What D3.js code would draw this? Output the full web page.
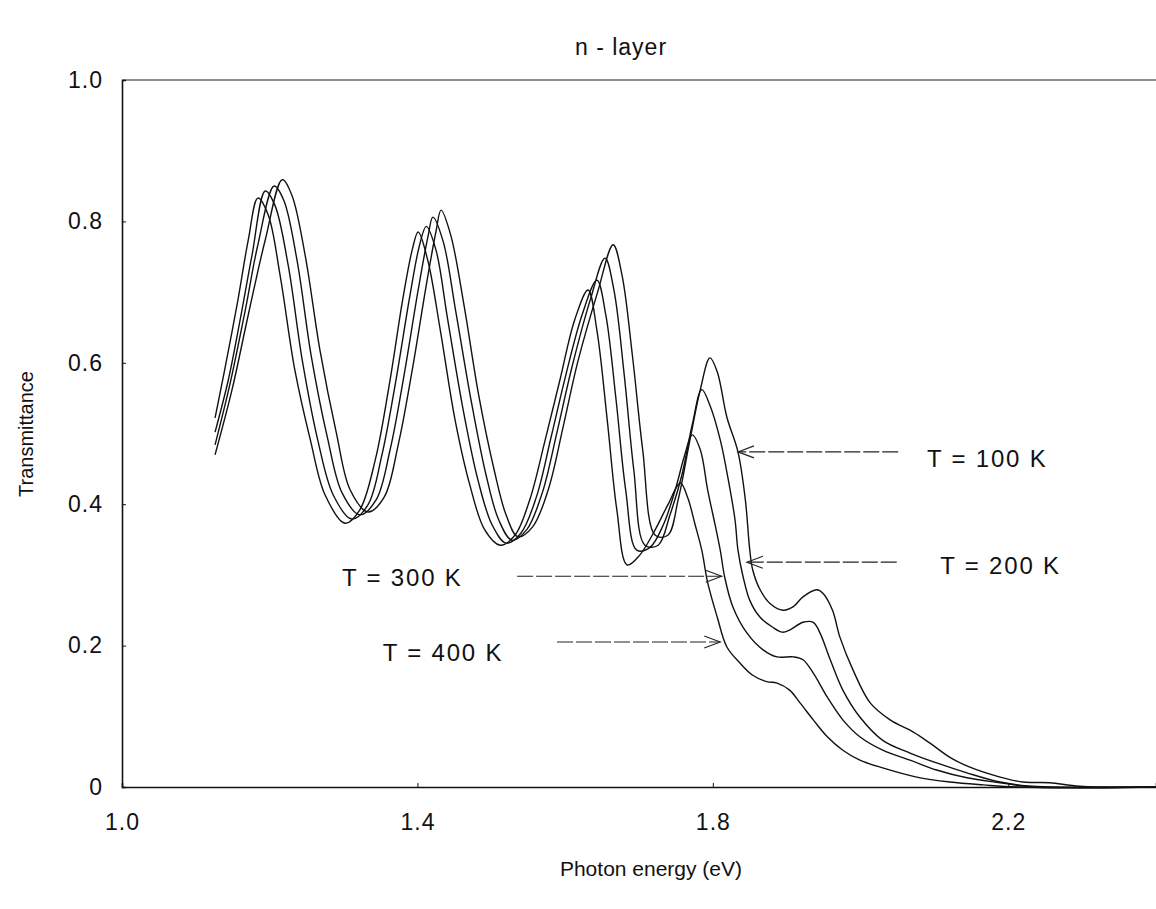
<!DOCTYPE html>
<html><head><meta charset="utf-8">
<script src="https://cdn.jsdelivr.net/npm/d3@7"></script>
<style>
body{margin:0;background:#fff}
text{font-family:"Liberation Sans",Arial,sans-serif;fill:#111}
</style>
</head><body>
<svg id="chart" width="1156" height="909"></svg>
<script>
// ---- data ----
const xTicks = [1.0, 1.4, 1.8, 2.2];
const yTicks = [0, 0.2, 0.4, 0.6, 0.8, 1.0];
const title = "n - layer";
const xTitle = "Photon energy (eV)";
const yTitle = "Transmittance";

const e400 = [1.126,1.139,1.157,1.171,1.184,1.198,1.214,1.234,1.255,1.275,1.302,1.322,1.343,1.363,1.380,1.393,1.401,1.414,1.431,1.451,1.471,1.491,1.512,1.532,1.552,1.573,1.593,1.613,1.631,1.643,1.657,1.670,1.684,1.701,1.722,1.739,1.756,1.766,1.776,1.785,1.793,1.806,1.819,1.837,1.854,1.873,1.887,1.904,1.918,1.936,1.955,1.976,1.999,2.030,2.076,2.121,2.166,2.212,2.400];
const t400 = [0.522,0.590,0.689,0.774,0.833,0.809,0.724,0.590,0.491,0.413,0.373,0.392,0.463,0.576,0.689,0.760,0.785,0.745,0.646,0.519,0.427,0.364,0.342,0.356,0.406,0.491,0.576,0.661,0.703,0.646,0.519,0.392,0.314,0.328,0.364,0.399,0.430,0.409,0.371,0.335,0.289,0.240,0.198,0.175,0.158,0.149,0.147,0.137,0.119,0.095,0.071,0.052,0.038,0.027,0.014,0.007,0.003,0.000,0.000];

const e300 = [1.126,1.144,1.160,1.176,1.194,1.207,1.225,1.244,1.265,1.286,1.311,1.333,1.352,1.371,1.390,1.403,1.412,1.425,1.441,1.462,1.482,1.501,1.520,1.540,1.561,1.581,1.601,1.623,1.643,1.655,1.669,1.682,1.697,1.715,1.733,1.749,1.762,1.772,1.783,1.793,1.803,1.810,1.816,1.827,1.846,1.868,1.887,1.909,1.922,1.936,1.955,1.976,1.999,2.030,2.067,2.103,2.144,2.189,2.233,2.400];
const t300 = [0.502,0.576,0.661,0.752,0.843,0.823,0.738,0.604,0.491,0.413,0.379,0.399,0.470,0.576,0.696,0.767,0.793,0.760,0.661,0.533,0.434,0.371,0.345,0.359,0.410,0.495,0.583,0.668,0.717,0.668,0.547,0.420,0.335,0.339,0.371,0.420,0.470,0.498,0.477,0.420,0.371,0.335,0.297,0.255,0.218,0.194,0.184,0.184,0.180,0.161,0.127,0.095,0.071,0.052,0.038,0.024,0.013,0.006,0.000,0.000];

const e200 = [1.126,1.146,1.167,1.184,1.206,1.219,1.237,1.256,1.278,1.298,1.322,1.344,1.363,1.382,1.401,1.414,1.421,1.435,1.452,1.473,1.493,1.510,1.528,1.548,1.569,1.589,1.609,1.634,1.654,1.666,1.680,1.693,1.708,1.726,1.742,1.758,1.772,1.785,1.796,1.810,1.821,1.830,1.834,1.841,1.850,1.864,1.881,1.894,1.904,1.922,1.936,1.945,1.959,1.976,1.999,2.030,2.067,2.103,2.144,2.189,2.233,2.400];
const t200 = [0.484,0.569,0.675,0.767,0.850,0.830,0.745,0.611,0.495,0.416,0.385,0.406,0.477,0.583,0.703,0.777,0.806,0.771,0.672,0.545,0.441,0.378,0.349,0.364,0.416,0.502,0.593,0.689,0.748,0.703,0.583,0.448,0.342,0.342,0.385,0.441,0.512,0.562,0.540,0.491,0.434,0.378,0.335,0.297,0.264,0.240,0.226,0.219,0.222,0.233,0.233,0.218,0.180,0.137,0.099,0.066,0.048,0.034,0.020,0.007,0.001,0.000];

const e100 = [1.126,1.149,1.171,1.194,1.217,1.230,1.248,1.268,1.290,1.309,1.333,1.355,1.374,1.393,1.412,1.425,1.432,1.445,1.463,1.483,1.504,1.520,1.536,1.556,1.577,1.597,1.617,1.644,1.665,1.677,1.691,1.705,1.722,1.739,1.753,1.769,1.783,1.796,1.806,1.819,1.834,1.844,1.850,1.854,1.864,1.877,1.895,1.909,1.922,1.941,1.949,1.962,1.972,1.990,2.013,2.040,2.071,2.094,2.121,2.148,2.189,2.220,2.256,2.297,2.400];
const t100 = [0.470,0.562,0.668,0.774,0.859,0.837,0.752,0.618,0.502,0.420,0.389,0.410,0.484,0.590,0.710,0.785,0.816,0.781,0.682,0.554,0.448,0.385,0.354,0.368,0.420,0.508,0.601,0.700,0.767,0.724,0.611,0.477,0.356,0.356,0.406,0.491,0.562,0.607,0.587,0.523,0.474,0.406,0.335,0.307,0.279,0.260,0.250,0.255,0.269,0.279,0.274,0.250,0.212,0.165,0.119,0.095,0.078,0.062,0.042,0.028,0.014,0.007,0.006,0.001,0.000];

const seriesNames = ["T = 100 K","T = 200 K","T = 300 K","T = 400 K"];
// annotation anchors in data units
const labelE     = [2.090, 2.108, 1.298, 1.353];
const labelT     = [0.464, 0.313, 0.297, 0.190];
const arrowTailE = [2.051, 2.049, 1.535, 1.589];
const arrowTipE  = [1.834, 1.846, 1.812, 1.810];
const arrowT     = [0.474, 0.318, 0.298, 0.205];

// ---- chart ----
const svg = d3.select("#chart");
const L = 122, R = 1156, T = 80, B = 787;
const x = d3.scaleLinear().domain([1.0, 2.4]).range([L, R]);
const y = d3.scaleLinear().domain([0, 1.0]).range([B, T]);

const series = [
  {e:e100, t:t100},{e:e200, t:t200},{e:e300, t:t300},{e:e400, t:t400}
];

// frame top line
svg.append("line").attr("x1",L).attr("x2",R).attr("y1",T).attr("y2",T)
  .attr("stroke","#222").attr("stroke-width",1.2);

const fmt = d => d === 0 ? "0" : d3.format(".1f")(d);

const xAxis = svg.append("g").attr("transform",`translate(0,${B})`)
  .call(d3.axisBottom(x).tickValues(xTicks).tickFormat(fmt).tickSize(-4).tickPadding(27));
const yAxis = svg.append("g").attr("transform",`translate(${L},0)`)
  .call(d3.axisLeft(y).tickValues(yTicks).tickFormat(fmt).tickSize(-4).tickPadding(19));
[xAxis,yAxis].forEach(g=>{
  g.select(".domain").attr("stroke","#111").attr("stroke-width",1.6);
  g.selectAll(".tick line").attr("stroke","#111");
  g.selectAll("text").attr("font-size",23).attr("fill","#111")
    .attr("letter-spacing",1)
    .style("font-family","'Liberation Sans',Arial,sans-serif");
});

// curves
const line = d3.line().x(d=>x(d[0])).y(d=>y(d[1])).curve(d3.curveCatmullRom.alpha(0.5));
series.forEach(s=>{
  const pts = s.e.map((v,i)=>[v, s.t[i]]);
  svg.append("path").attr("d", line(pts)).attr("fill","none")
    .attr("stroke","#111").attr("stroke-width",1.4);
});

// annotations
seriesNames.forEach((name,i)=>{
  const yy = y(arrowT[i]);
  const x0 = x(arrowTailE[i]), x1 = x(arrowTipE[i]);
  svg.append("line").attr("x1",x0).attr("x2",x1).attr("y1",yy).attr("y2",yy)
    .attr("stroke","#222").attr("stroke-width",1.1).attr("stroke-dasharray","16,3");
  const dir = x1 < x0 ? 1 : -1;
  svg.append("path").attr("d",`M${x1+dir*16},${yy-6}L${x1},${yy}L${x1+dir*16},${yy+6}`)
    .attr("fill","none").attr("stroke","#222").attr("stroke-width",1.1);
  svg.append("text").attr("x",x(labelE[i])).attr("y",y(labelT[i]))
    .attr("dominant-baseline","central").attr("font-size",24)
    .attr("letter-spacing",1.8).text(name);
});

// titles
svg.append("text").attr("x",621).attr("y",47).attr("text-anchor","middle")
  .attr("dominant-baseline","central").attr("font-size",23).attr("letter-spacing",1).text(title);
svg.append("text").attr("x",651).attr("y",868).attr("text-anchor","middle")
  .attr("dominant-baseline","central").attr("font-size",21).text(xTitle);
svg.append("text").attr("transform","translate(26,434) rotate(-90)").attr("text-anchor","middle")
  .attr("dominant-baseline","central").attr("font-size",20).text(yTitle);
</script>
</body></html>
